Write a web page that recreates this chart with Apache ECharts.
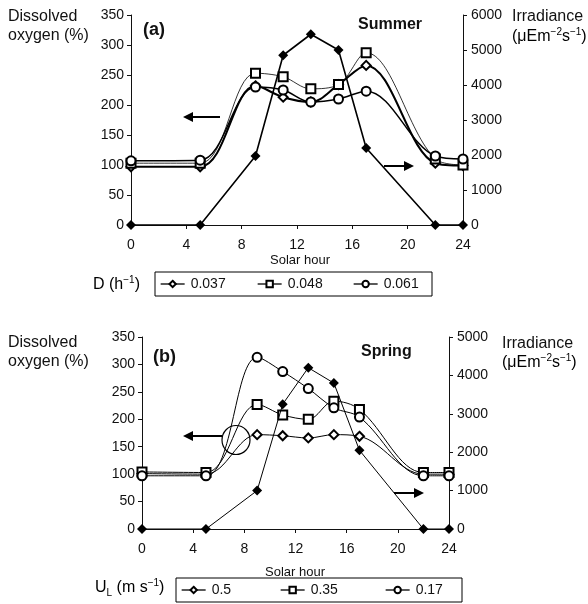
<!DOCTYPE html>
<html>
<head>
<meta charset="utf-8">
<script src="https://cdn.jsdelivr.net/npm/echarts@6/dist/echarts.min.js"></script>
<style>
  html, body { margin: 0; padding: 0; background: #fff; }
  #chart { width: 588px; height: 604px; }
</style>
</head>
<body>
<div id="chart"></div>
<script>
  // solar hours (shared by both panels)
  const hours = [0, 5, 9, 11, 13, 15, 17, 22, 24]

  // (a) Summer - dissolved oxygen (%) per dilution rate D, irradiance
  const summerNames = ["0.037", "0.048", "0.061"]
  const summerD037 = [97, 97, 232, 213, 205, 234, 266, 103, 99]
  const summerD048 = [103, 103, 253, 247, 227, 234, 287, 110, 100]
  const summerD061 = [107, 108, 230, 225, 205, 210, 223, 115, 110]
  const summerIrr = [0, 0, 1970, 4850, 5450, 5000, 2200, 0, 0]

  // (b) Spring - dissolved oxygen (%) per liquid velocity UL, irradiance
  const springNames = ["0.5", "0.35", "0.17"]
  const springU05 = [101, 100, 172, 170, 166, 172, 169, 100, 100]
  const springU035 = [104, 103, 227, 208, 200, 233, 218, 103, 103]
  const springU017 = [97, 97, 313, 287, 256, 221, 204, 97, 97]
  const springIrr = [0, 0, 1000, 3250, 4200, 3800, 2050, 0, 0]

  const xTicks = [0, 4, 8, 12, 16, 20, 24]

  const pairs = (vals) => hours.map((h, i) => [h, vals[i]])

  const font = "Liberation Sans, Arial, sans-serif"
  const ink = "#111"

  const chart = echarts.init(document.getElementById("chart"))

  function xAxis(gridIndex) {
    return {
      type: "value",
      gridIndex: gridIndex,
      min: 0,
      max: 24,
      interval: 4,
      axisLine: { show: true, onZero: false, lineStyle: { color: ink, width: 1 } },
      axisTick: { show: true, length: 4, lineStyle: { color: ink } },
      axisLabel: { color: ink, fontFamily: font, fontSize: 14, margin: 13,
        formatter: (v) => (xTicks.includes(v) ? String(v) : "") },
      splitLine: { show: false },
    }
  }

  function yAxis(gridIndex, position, max) {
    return {
      type: "value",
      gridIndex: gridIndex,
      position: position,
      min: 0,
      max: max,
      interval: position === "left" ? 50 : 1000,
      axisLine: { show: true, lineStyle: { color: ink, width: 1 } },
      axisTick: { show: true, length: 4, lineStyle: { color: ink } },
      axisLabel: { color: ink, fontFamily: font, fontSize: 14, margin: position === "left" ? 7 : 8,
        formatter: (v) => String(v) },
      splitLine: { show: false },
    }
  }

  function doSeries(name, vals, symbol, width, xi, yi) {
    return {
      name: name,
      type: "line",
      xAxisIndex: xi,
      yAxisIndex: yi,
      data: pairs(vals),
      smooth: 0.35,
      symbol: symbol,
      symbolSize: 9,
      showAllSymbol: true,
      lineStyle: { color: "#000", width: width },
      itemStyle: { color: "#000", borderColor: "#000", borderWidth: 1 },
      z: 3,
    }
  }

  function irrSeries(vals, width, xi, yi) {
    return {
      name: "irr" + xi,
      type: "line",
      xAxisIndex: xi,
      yAxisIndex: yi,
      data: pairs(vals),
      symbol: "diamond",
      symbolSize: 10,
      lineStyle: { color: "#000", width: width },
      itemStyle: { color: "#000" },
      z: 4,
    }
  }

  function legendItem(name, left, top) {
    return {
      data: [name],
      left: left,
      top: top,
      itemWidth: 24,
      itemHeight: 8,
      itemGap: 0,
      padding: 0,
      selectedMode: false,
      lineStyle: { width: 1.3 },
      textStyle: { color: ink, fontFamily: font, fontSize: 14, padding: [0, 0, 0, 1] },
    }
  }

  const rich = {
    a: { fontFamily: font, fontSize: 16, color: ink, lineHeight: 20 },
    s: { fontFamily: font, fontSize: 10, color: ink, lineHeight: 12, verticalAlign: "top" },
    b: { fontFamily: font, fontSize: 10, color: ink, lineHeight: 18, verticalAlign: "bottom" },
  }

  function txt(x, y, text, opts) {
    return {
      type: "text",
      x: x,
      y: y,
      style: Object.assign({ text: text, fill: ink, font: "16px " + font, verticalAlign: "middle" }, opts || {}),
    }
  }

  function richTxt(x, y, text) {
    return {
      type: "text",
      x: x,
      y: y,
      style: { text: text, rich: rich, verticalAlign: "middle" },
    }
  }

  function arrow(x1, x2, y) {
    const dir = x2 > x1 ? 1 : -1
    return {
      type: "group",
      children: [
        { type: "line", shape: { x1: x1, y1: y, x2: x2 - dir * 7, y2: y }, style: { stroke: "#000", lineWidth: 2 } },
        { type: "polygon", shape: { points: [[x2, y], [x2 - dir * 10, y - 5], [x2 - dir * 10, y + 5]] }, style: { fill: "#000" } },
      ],
    }
  }

  const option = {
    backgroundColor: "#fff",
    animation: false,
    grid: [
      { left: 131, width: 332, top: 15, height: 210 },
      { left: 142, width: 307, top: 337, height: 192 },
    ],
    xAxis: [xAxis(0), xAxis(1)],
    yAxis: [yAxis(0, "left", 350), yAxis(0, "right", 6000), yAxis(1, "left", 350), yAxis(1, "right", 5000)],
    legend: [
      legendItem(summerNames[0], 160, 277),
      legendItem(summerNames[1], 257, 277),
      legendItem(summerNames[2], 353, 277),
      legendItem(springNames[0], 181, 583),
      legendItem(springNames[1], 280, 583),
      legendItem(springNames[2], 385, 583),
    ],
    series: [
      irrSeries(summerIrr, 1.6, 0, 1),
      doSeries(summerNames[0], summerD037, "emptyDiamond", 2, 0, 0),
      doSeries(summerNames[1], summerD048, "emptyRect", 0.8, 0, 0),
      doSeries(summerNames[2], summerD061, "emptyCircle", 1.5, 0, 0),
      irrSeries(springIrr, 1, 1, 3),
      doSeries(springNames[0], springU05, "emptyDiamond", 1, 1, 2),
      doSeries(springNames[1], springU035, "emptyRect", 1, 1, 2),
      doSeries(springNames[2], springU017, "emptyCircle", 1, 1, 2),
    ],
    graphic: [
      // panel (a) labels
      txt(8, 17, "Dissolved"),
      txt(8, 36, "oxygen (%)"),
      txt(143, 30, "(a)", { font: "bold 18px " + font }),
      txt(358, 25, "Summer", { font: "bold 16px " + font }),
      txt(512, 17, "Irradiance"),
      richTxt(512, 37, "{a|(μEm}{s|−2}{a|s}{s|−1}{a|)}"),
      txt(300, 260, "Solar hour", { font: "13px " + font, align: "center" }),
      richTxt(93, 285, "{a|D (h}{s|−1}{a|)}"),
      { type: "rect", shape: { x: 155, y: 272, width: 277, height: 24 }, style: { fill: null, stroke: "#000", lineWidth: 1 } },
      arrow(220, 183, 117),
      arrow(384, 414, 166),

      // panel (b) labels
      txt(8, 343, "Dissolved"),
      txt(8, 362, "oxygen (%)"),
      txt(153, 357, "(b)", { font: "bold 18px " + font }),
      txt(361, 352, "Spring", { font: "bold 16px " + font }),
      txt(502, 344, "Irradiance"),
      richTxt(502, 363, "{a|(μEm}{s|−2}{a|s}{s|−1}{a|)}"),
      txt(295, 572, "Solar hour", { font: "13px " + font, align: "center" }),
      richTxt(95, 588, "{a|U}{b|L}{a| (m s}{s|−1}{a|)}"),
      { type: "rect", shape: { x: 176, y: 578, width: 286, height: 24 }, style: { fill: null, stroke: "#000", lineWidth: 1 } },
      arrow(222, 183, 436),
      { type: "ellipse", shape: { cx: 236, cy: 440, rx: 14, ry: 14.5 }, style: { fill: null, stroke: "#000", lineWidth: 1.2 } },
      arrow(394, 424, 493),
    ],
  }

  chart.setOption(option)
</script>
</body>
</html>
